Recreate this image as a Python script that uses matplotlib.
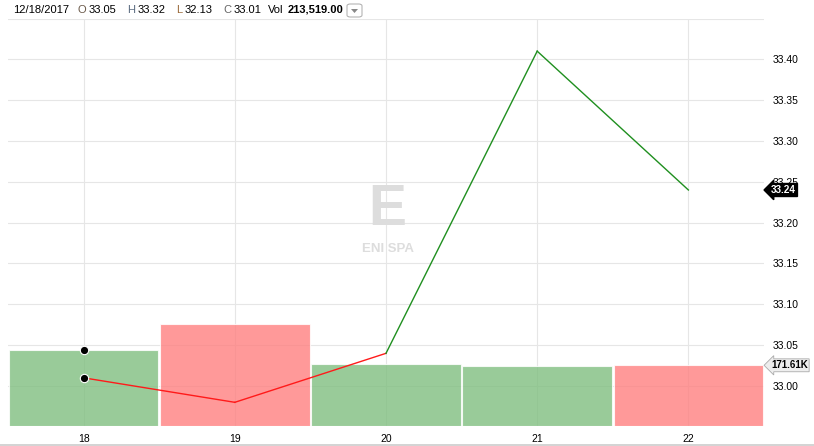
import matplotlib.pyplot as plt
from matplotlib.patches import FancyBboxPatch
from matplotlib.lines import Line2D
import numpy as np

plt.rcParams['font.family'] = ['Liberation Sans', 'DejaVu Sans']

# data
days = [18, 19, 20, 21, 22]
close = [33.01, 32.98, 33.04, 33.41, 33.24]
volume = [213519, 288000, 175500, 169600, 171610]
bar_colors = ['#80bf80', '#ff8080', '#80bf80', '#80bf80', '#ff8080']
seg_colors = ['#ff1a1a', '#ff1a1a', '#1f8f1f', '#1f8f1f']
price_ticks = [33.00, 33.05, 33.10, 33.15, 33.20, 33.25, 33.30, 33.35, 33.40]

W, H = 814, 446
fig = plt.figure(figsize=(W / 100, H / 100), dpi=100)

# plot area in pixels: left 8, right 764, top 18.5, bottom 426
ax_vol = fig.add_axes([8 / W, 20 / H, 756 / W, 407.5 / H])
ax_vol.set_xlim(17.5, 22.5)
ax_vol.set_ylim(0, 1152000)

# grid (drawn on the bottom axes, under the bars)
for d in days:
    ax_vol.axvline(d, color='#e6e6e6', lw=0.8, zorder=0)

ax_vol.bar(days, volume, width=0.99, color=bar_colors, alpha=0.8,
           edgecolor='white', linewidth=0.8, zorder=2)
ax_vol.plot(days[0], volume[0], 'o', color='black', markersize=6,
            markeredgecolor='white', markeredgewidth=0.8, zorder=5)

ax_vol.set_xticks(days)
ax_vol.set_xticklabels([str(d) for d in days])
ax_vol.tick_params(axis='x', length=0, pad=6, labelsize=7.5, colors='black')
ax_vol.set_yticks([])
for s in ax_vol.spines.values():
    s.set_visible(False)

ax_p = ax_vol.twinx()
ax_p.set_ylim(32.951, 33.45)
ax_p.set_xlim(17.5, 22.5)
for t in price_ticks + [33.45]:
    ax_vol.axhline((t - 32.951) / (33.45 - 32.951) * 1152000,
                   color='#e6e6e6', lw=0.8, zorder=0)
ax_p.set_yticks(price_ticks)
ax_p.set_yticklabels(['%.2f' % t for t in price_ticks])
ax_p.tick_params(axis='y', length=0, pad=6, labelsize=7.5, colors='black')
for s in ax_p.spines.values():
    s.set_visible(False)

for i in range(len(days) - 1):
    ax_p.plot(days[i:i + 2], close[i:i + 2], color=seg_colors[i], lw=1.0,
              zorder=3)
ax_p.plot(days[0], close[0], 'o', color='black', markersize=6,
          markeredgecolor='white', markeredgewidth=0.8, zorder=5)

# watermark
ax_p.text(0.502, 0.53, 'E', transform=ax_p.transAxes, fontsize=41,
          fontweight='bold', color='#dddddd', ha='center', va='center',
          zorder=1)
ax_p.text(0.502, 0.435, 'ENI SPA', transform=ax_p.transAxes, fontsize=9.5,
          fontweight='bold', color='#dddddd', ha='center', va='center',
          zorder=1)

# value badges on the right
ax_p.annotate('%.2f' % close[-1], xy=(1.0, close[-1]),
              xycoords=('axes fraction', 'data'), xytext=(5, 0),
              textcoords='offset points', fontsize=7.2, fontweight='bold',
              color='white', va='center', ha='left',
              bbox=dict(boxstyle='larrow,pad=0.15', fc='black', ec='black'))
ax_vol.annotate('%.2fK' % (volume[-1] / 1000), xy=(1.0, volume[-1]),
                xycoords=('axes fraction', 'data'), xytext=(5, 0),
                textcoords='offset points', fontsize=7, fontweight='bold',
                color='black', va='center', ha='left', zorder=6,
                bbox=dict(boxstyle='larrow,pad=0.15', fc='#eeeeee',
                          ec='#aaaaaa', lw=0.6))

# header
ty = 1 - 10 / H
fig.text(13 / W, ty, '12/18/2017', fontsize=8, color='black', va='center')
items = [('O', '33.05', 77, 89, '#6b5a4a'), ('H', '33.32', 127, 138, '#5a6b80'),
         ('L', '32.13', 176, 185, '#9a6a3a'), ('C', '33.01', 223, 234, '#666666')]
for lab, val, x, xv, c in items:
    fig.text(x / W, ty, lab, fontsize=8, color=c, va='center')
    fig.text(xv / W, ty, val, fontsize=8, color='black', va='center')
fig.text(268 / W, ty, 'Vol', fontsize=8, color='black', va='center')
fig.text(288 / W, ty, '213,519.00', fontsize=8, fontweight='bold',
         color='black', va='center')
box = FancyBboxPatch((347 / W, 1 - 17 / H), 15 / W, 13 / H,
                     boxstyle='round,pad=0,rounding_size=0.004',
                     transform=fig.transFigure, fc='white', ec='#aaaaaa',
                     lw=0.7)
fig.patches.append(box)
fig.patches.append(plt.Polygon([[351 / W, 1 - 9 / H], [358 / W, 1 - 9 / H],
                                [354.5 / W, 1 - 13 / H]], closed=True,
                               transform=fig.transFigure, fc='#888888',
                               ec='none'))

# bottom border
fig.add_artist(Line2D([0, 1], [1.5 / H, 1.5 / H], transform=fig.transFigure,
                      color='#cccccc', lw=1.2))

fig.savefig('out.png', dpi=100)
